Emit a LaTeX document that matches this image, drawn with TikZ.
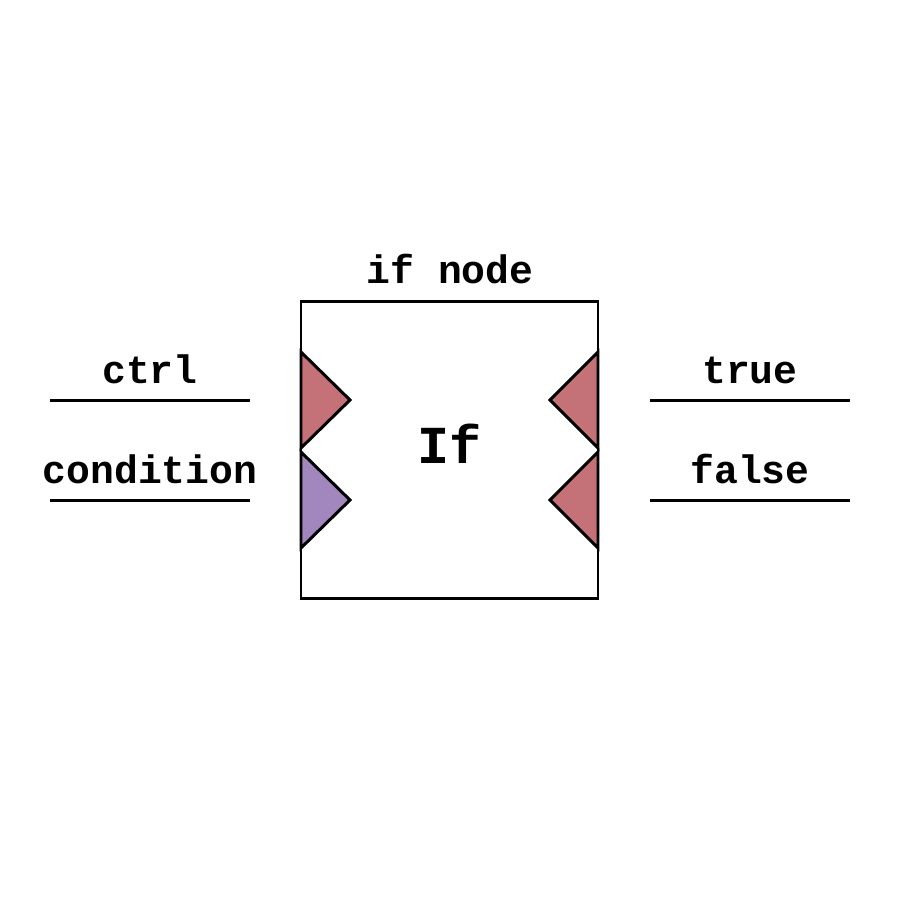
\documentclass[tikz,border=0pt]{standalone}
\usepackage{fontspec}
\setmonofont{Liberation Mono}
\usepackage{tikz}
\usetikzlibrary{positioning}
\definecolor{ctrlred}{RGB}{196,114,120}
\definecolor{datapurple}{RGB}{162,135,191}
\tikzset{
    lbl/.style={font=\ttfamily\bfseries\fontsize{11.3}{13}\selectfont, anchor=base, inner sep=0pt},
    wire/.style={line width=0.85pt},
    port/.style={line width=0.85pt, draw=black, line join=miter},
}

\begin{document}
\begin{tikzpicture}[x=1cm, y=-1cm]
    \useasboundingbox (0,0) rectangle (9,9);
		% block
		\node [draw, line width=0.85pt, minimum width=2.97cm, minimum height=2.97cm, inner sep=0pt] (ifnode) at (4.495, 4.495) {};
		\node [lbl] (title) at (4.5, 2.83) {if node};
		\node [font=\ttfamily\bfseries\fontsize{15.2}{18}\selectfont, anchor=base, inner sep=0pt] (name) at (4.5, 4.63) {If};
		% ports
		\draw [port, fill=ctrlred] (3.01, 3.52) -- (3.5, 4.0) -- (3.01, 4.48) -- cycle;
		\draw [port, fill=datapurple] (3.01, 4.52) -- (3.5, 5.0) -- (3.01, 5.48) -- cycle;
		\draw [port, fill=ctrlred] (5.98, 3.52) -- (5.5, 4.0) -- (5.98, 4.48) -- cycle;
		\draw [port, fill=ctrlred] (5.98, 4.52) -- (5.5, 5.0) -- (5.98, 5.48) -- cycle;
		% wires
		\coordinate (ctrlA) at (0.5, 4.0);
		\coordinate (ctrlB) at (2.5, 4.0);
		\coordinate (condA) at (0.5, 5.0);
		\coordinate (condB) at (2.5, 5.0);
		\coordinate (trueA) at (6.5, 4.0);
		\coordinate (trueB) at (8.5, 4.0);
		\coordinate (falseA) at (6.5, 5.0);
		\coordinate (falseB) at (8.5, 5.0);
		\draw [wire] (ctrlA) -- (ctrlB);
		\draw [wire] (condA) -- (condB);
		\draw [wire] (trueA) -- (trueB);
		\draw [wire] (falseA) -- (falseB);
		\node [lbl] (ctrl) at (1.5, 3.83) {ctrl};
		\node [lbl] (cond) at (1.5, 4.83) {condition};
		\node [lbl] (true) at (7.5, 3.83) {true};
		\node [lbl] (false) at (7.5, 4.83) {false};
	\end{tikzpicture}
\end{document}
